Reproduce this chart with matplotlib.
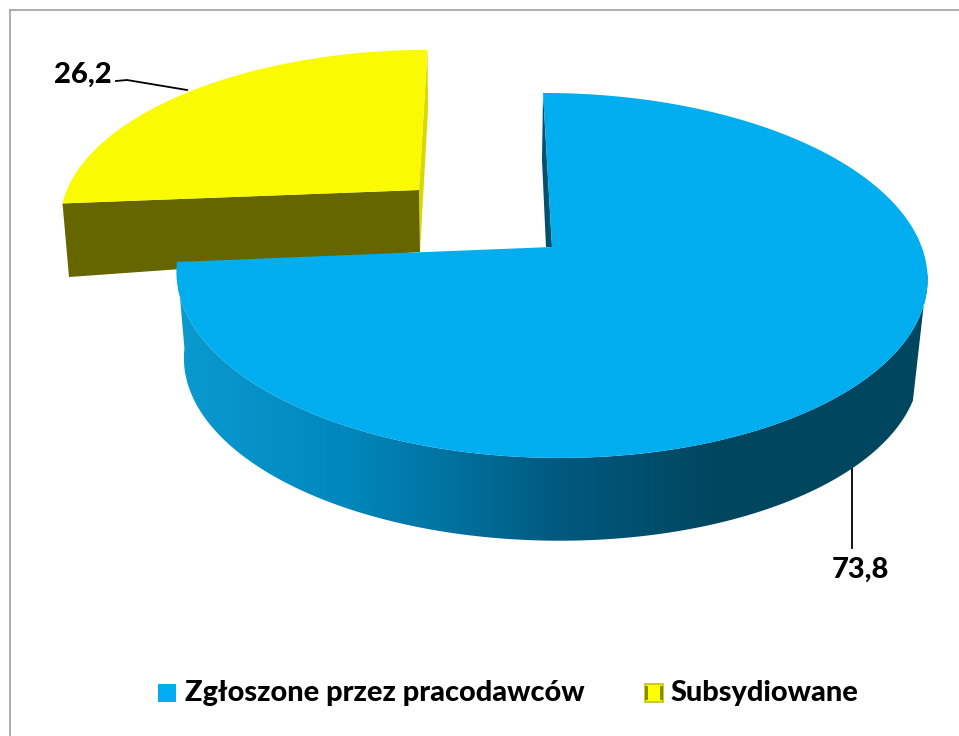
import numpy as np
import matplotlib
matplotlib.use('Agg')
import matplotlib.pyplot as plt
from matplotlib.colors import LinearSegmentedColormap
from matplotlib.patches import Polygon, Rectangle

labels = ['Zgłoszone przez pracodawców', 'Subsydiowane']
values = [73.8, 26.2]
value_labels = ['73,8', '26,2']

BLUE = '#00AEEF'
YELLOW = '#FAFA00'
OLIVE = '#666600'
FONT = ['Lato', 'DejaVu Sans']

start = -1.6
blue_end = start + 360 * values[0] / sum(values)
yellow_end = blue_end + 360 * values[1] / sum(values)


# flat disc seen in perspective, angle clockwise from the top, output in pixels
def disc(angles, cx, cy, sx=1.0, sy=1.0, shear=0.0):
    a = np.radians(angles)
    u, v = np.sin(a), np.cos(a)
    w = 1 + 0.156 * v
    dx = sx * 371 * u / w
    dy = -sy * 178 * v / w
    return np.column_stack([cx + dx + shear * dy, cy + dy + 0.01 * dx])


f = plt.figure(figsize=(9.59, 7.36), dpi=100)
ax = f.add_axes([0, 0, 1, 1])

# frame
ax.plot([10, 10], [736, 10], color='#a0a0a0', lw=1.2)
ax.plot([10, 959], [10, 10], color='#a0a0a0', lw=1.2)

# yellow slice, pulled out to the upper left
yellow_arc = disc(np.linspace(blue_end, yellow_end, 120), 419, 190, 0.945, 0.91, -0.121)
y_left = yellow_arc[0]
y_top = yellow_arc[-1]
ax.add_patch(Polygon([y_top, (428, 110), (420, 252), (419, 190)], fc='#D9D900', ec='none'))
ax.add_patch(Polygon([y_left, (419, 190), (420, 252), (69, 277)], fc=OLIVE, ec='none'))
ax.add_patch(Polygon(np.vstack([[(419, 190)], yellow_arc]), fc=YELLOW, ec='none'))

# blue slice: side wall with the horizontal shading, then the top
top_edge = disc(np.linspace(97, blue_end, 200), 552, 247)
low_edge = disc(np.linspace(110, blue_end, 200), 552, 334, 0.98, 0.98)
wall = Polygon(np.vstack([top_edge, low_edge[::-1]]), fc='none', ec='none')
ax.add_patch(wall)
shade = LinearSegmentedColormap.from_list('shade', [
    (0.0, '#0A9AD0'), (0.22, '#0088BD'), (0.36, '#0072A0'),
    (0.5, '#005A80'), (0.72, '#00465F'), (1.0, '#00465F')])
im = ax.imshow(np.linspace(0, 1, 256)[None, :], cmap=shade, extent=[178, 930, 560, 240],
               aspect='auto', zorder=2)
im.set_clip_path(wall)

blue_arc = disc(np.linspace(start, blue_end, 300), 552, 247)
ax.add_patch(Polygon([blue_arc[0], (542, 160), (546, 247), (552, 247)], fc='#00506E', ec='none', zorder=3))
ax.add_patch(Polygon(np.vstack([[(552, 247)], blue_arc]), fc=BLUE, ec='none', zorder=3))

# value labels with leader lines
ax.plot([116, 127, 187], [81, 80, 90], color='black', lw=1.3, zorder=4)
ax.plot([852, 852], [464, 548], color='black', lw=1.3, zorder=1)
ax.text(860, 570, value_labels[0], ha='center', va='center', fontsize=21, fontweight=900, family=FONT)
ax.text(83, 75, value_labels[1], ha='center', va='center', fontsize=21, fontweight=900, family=FONT)

# legend
ax.add_patch(Rectangle((158, 684), 18, 18, fc=BLUE, ec='none'))
ax.text(185, 693, labels[0], ha='left', va='center', fontsize=20.8, fontweight=900, family=FONT)
ax.add_patch(Rectangle((645, 684), 18, 18, fc='#FFFF00', ec='#C4C400', lw=1.2))
ax.add_patch(Rectangle((645, 686), 3, 14, fc='#8A8A00', ec='none'))
ax.add_patch(Rectangle((660, 686), 3, 14, fc='#8A8A00', ec='none'))
ax.text(670, 693, labels[1], ha='left', va='center', fontsize=20.8, fontweight=900, family=FONT)

ax.set_xlim(0, 959)
ax.set_ylim(736, 0)
ax.axis('off')

f.savefig('out.png', dpi=100)
